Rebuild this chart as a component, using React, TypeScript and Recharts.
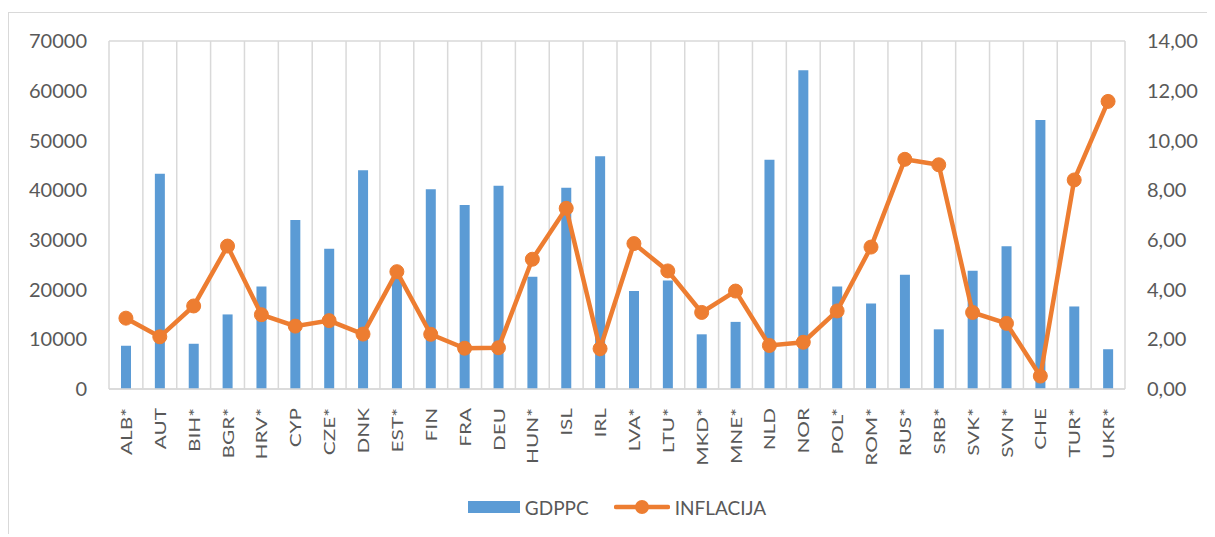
import React from "react";
import { Bar, CartesianGrid, ComposedChart, Legend, Line, XAxis, YAxis } from "recharts";

const countries = [
	"ALB*", "AUT", "BIH*", "BGR*", "HRV*", "CYP", "CZE*", "DNK", "EST*", "FIN",
	"FRA", "DEU", "HUN*", "ISL", "IRL", "LVA*", "LTU*", "MKD*", "MNE*", "NLD",
	"NOR", "POL*", "ROM*", "RUS*", "SRB*", "SVK*", "SVN*", "CHE", "TUR*", "UKR*",
];

const gdppc = [
	8700, 43300, 9100, 15000, 20600, 34000, 28200, 44000, 23000, 40200,
	37000, 40900, 22600, 40500, 46800, 19700, 21800, 11000, 13500, 46100,
	64100, 20600, 17200, 23000, 12000, 23800, 28700, 54100, 16600, 8000,
];

const inflacija = [
	2.85, 2.1, 3.34, 5.75, 2.99, 2.53, 2.75, 2.21, 4.72, 2.2,
	1.64, 1.66, 5.22, 7.27, 1.62, 5.85, 4.75, 3.08, 3.94, 1.75,
	1.88, 3.14, 5.71, 9.24, 9.02, 3.08, 2.64, 0.52, 8.41, 11.57,
];

const leftTicks = [0, 10000, 20000, 30000, 40000, 50000, 60000, 70000];
const rightTicks = [0, 2, 4, 6, 8, 10, 12, 14];

const data = countries.map((c, i) => ({ name: c, GDPPC: gdppc[i], INFLACIJA: inflacija[i] }));

const BLUE = "#5B9BD5";
const ORANGE = "#ED7D31";
const TEXT = "#595959";
const GRID = "#d9d9d9";
const FONT = "Lato, 'Liberation Sans', sans-serif";

// rotated country labels, stretched along the text like Excel does
const CountryTick = (props: any) => {
	const { x, y, payload } = props;
	const ty = y + 17;
	return (
		<text
			x={0}
			y={0}
			transform={`translate(${x} ${ty}) rotate(-90) scale(1.3 1)`}
			textAnchor="end"
			dominantBaseline="central"
			fontSize={16}
			fontFamily={FONT}
			fill={TEXT}
		>
			{payload.value}
		</text>
	);
};

const renderLegend = () => (
	<div
		style={{
			display: "flex",
			justifyContent: "center",
			alignItems: "center",
			height: 24,
			paddingLeft: 17,
			fontFamily: FONT,
			fontSize: 19,
			color: TEXT,
		}}
	>
		<svg width={52} height={12} style={{ marginRight: 5 }}>
			<rect x={0} y={0} width={52} height={12} fill={BLUE} />
		</svg>
		<span style={{ marginRight: 25 }}>GDPPC</span>
		<svg width={56} height={16} style={{ marginRight: 5 }}>
			<line x1={2} y1={8} x2={54} y2={8} stroke={ORANGE} strokeWidth={4.5} strokeLinecap="round" />
			<circle cx={28} cy={8} r={7} fill={ORANGE} />
		</svg>
		<span>INFLACIJA</span>
	</div>
);

export default function App() {
	const n = countries.length;
	return (
		<div
			style={{
				marginTop: 4,
				width: 1199,
				height: 521,
				borderTop: `1px solid ${GRID}`,
				borderLeft: `1px solid ${GRID}`,
				overflow: "hidden",
			}}
		>
			<ComposedChart width={1199} height={520} data={data} margin={{ top: 28, right: 0, left: 0, bottom: 14 }}>
				<CartesianGrid
					stroke={GRID}
					strokeWidth={1.5}
					verticalCoordinatesGenerator={({ offset }: any) =>
						Array.from({ length: n + 1 }, (_, i) => offset.left + (i * offset.width) / n)
					}
				/>
				<XAxis
					dataKey="name"
					interval={0}
					height={106}
					tickLine={false}
					tickSize={0}
					axisLine={{ stroke: GRID, strokeWidth: 1.5 }}
					tick={<CountryTick />}
				/>
				<YAxis
					yAxisId="left"
					width={100}
					domain={[0, 70000]}
					ticks={leftTicks}
					axisLine={false}
					tickLine={false}
					tickSize={0}
					tickMargin={22}
					tick={{ fontSize: 20, fill: TEXT, fontFamily: FONT }}
				/>
				<YAxis
					yAxisId="right"
					orientation="right"
					width={83}
					domain={[0, 14]}
					ticks={rightTicks}
					axisLine={false}
					tickLine={false}
					tickSize={0}
					tickMargin={22}
					tickFormatter={(v: number) => v.toFixed(2).replace(".", ",")}
					tick={{ fontSize: 20, fill: TEXT, fontFamily: FONT, textAnchor: "start" }}
				/>
				<Legend verticalAlign="bottom" content={renderLegend} />
				<Bar yAxisId="left" dataKey="GDPPC" fill={BLUE} barSize={10} isAnimationActive={false} />
				<Line
					yAxisId="right"
					dataKey="INFLACIJA"
					stroke={ORANGE}
					strokeWidth={4.5}
					dot={{ r: 7, fill: ORANGE, stroke: ORANGE, strokeWidth: 1 }}
					activeDot={false}
					isAnimationActive={false}
				/>
			</ComposedChart>
		</div>
	);
}
